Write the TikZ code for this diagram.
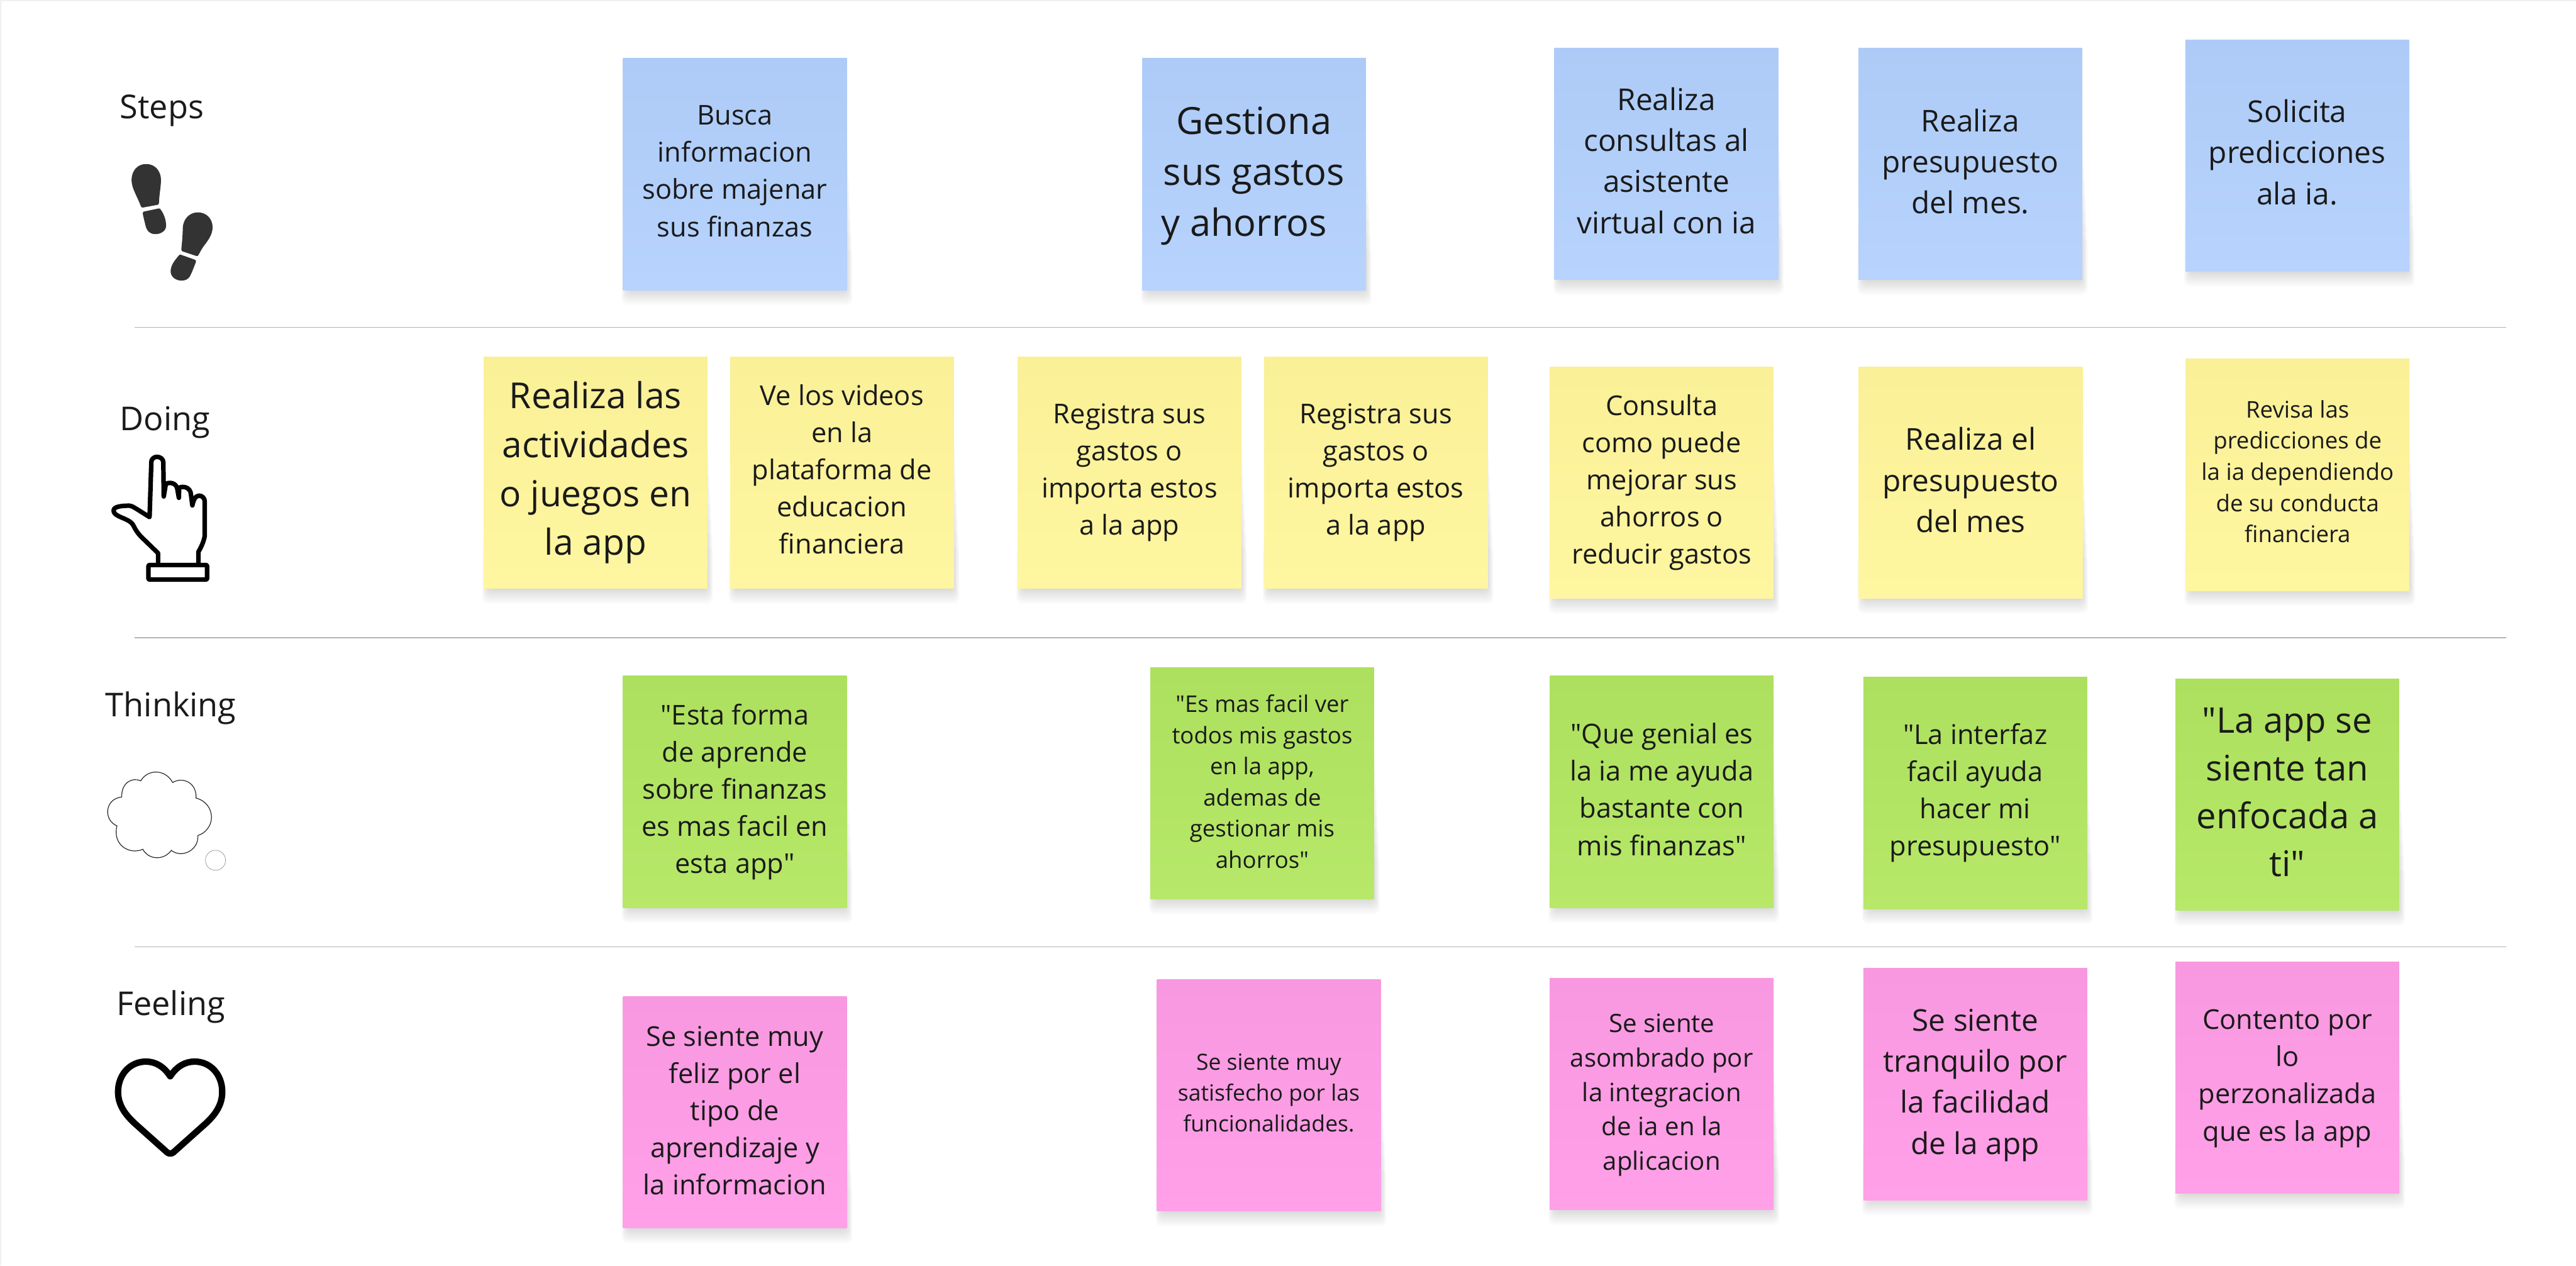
\documentclass[tikz,border=0pt]{standalone}
\usepackage{fontspec}
\setmainfont{Open Sans}[Ligatures=TeXOff]
\definecolor{ink}{HTML}{1A1A1A}
\definecolor{ruleline}{HTML}{B4B4B4}
\definecolor{framegray}{HTML}{F0F0F0}
\definecolor{bluetop}{HTML}{ADCBF6}\definecolor{bluebot}{HTML}{B7D3FE}
\definecolor{yellowtop}{HTML}{F9F097}\definecolor{yellowbot}{HTML}{FFF6A1}
\definecolor{greentop}{HTML}{ADE05E}\definecolor{greenbot}{HTML}{B7E869}
\definecolor{pinktop}{HTML}{F898E0}\definecolor{pinkbot}{HTML}{FFA0E8}
\tikzset{
  rowlabel/.style={text=ink,font=\fontsize{20}{24}\selectfont,inner sep=0pt},
  bluenote/.style={top color=bluetop,bottom color=bluebot},
  yellownote/.style={top color=yellowtop,bottom color=yellowbot},
  greennote/.style={top color=greentop,bottom color=greenbot},
  pinknote/.style={top color=pinktop,bottom color=pinkbot},
  noteshape/.style={rectangle,inner sep=0pt,draw=none,minimum width=136.2pt,minimum height=141pt,anchor=north west},
  notetext/.style={inner sep=0pt,text=ink,align=center},
  rowrule/.style={draw=ruleline,line width=0.45pt},
  iconline/.style={draw=black,line join=round,line cap=round},
}
% \sticky{name}{x1}{y1}{style}{size}{leading}{text}{text shift downward}
\newcommand{\sticky}[8]{%
  \foreach \shi in {1,...,9}{%
    \fill[black,opacity=0.016,rounded corners=3.5pt]
      ({#2+3-0.4*\shi},{#3+35+9*\shi}) rectangle ({#2+136.2+0.4*\shi},{#3+141+1.05*\shi});}
  \node[noteshape,#4] (#1) at (#2,#3) {};
  \node[notetext,font=\fontsize{#5}{#6}\selectfont,yshift={-(#8)*1pt}] (#1t) at (#1.center) {#7};}
\begin{document}
\begin{tikzpicture}[x=1pt,y=-1pt]
\useasboundingbox (0,0) rectangle (1568,770.3);
\fill[white] (0,0) rectangle (1568,770.3);
\fill[framegray] (0,0) rectangle (1568,0.6);
\fill[framegray] (0,0) rectangle (0.9,770.3);
\coordinate (r1a) at (82,199.2); \coordinate (r1b) at (1525.5,199.2);
\coordinate (r2a) at (82,388.2); \coordinate (r2b) at (1525.5,388.2);
\coordinate (r3a) at (82,576.4); \coordinate (r3b) at (1525.5,576.4);
\draw[rowrule] (r1a) -- (r1b);
\draw[rowrule] (r2a) -- (r2b);
\draw[rowrule] (r3a) -- (r3b);

\node[rowlabel] (lsteps) at (98.5,67.5) {Steps};
\node[rowlabel] (ldoing) at (100.5,257) {Doing};
\node[rowlabel] (lthink) at (104,431) {Thinking};
\node[rowlabel] (lfeel) at (104,613) {Feeling};

% Steps
\sticky{s1}{379}{35.3}{bluenote}{16.6}{22.6}{Busca\\informacion\\sobre majenar\\sus finanzas}{-1.8}
\sticky{s2}{695}{35.3}{bluenote}{22.8}{31}{Gestiona\\sus gastos\\y ahorros\hspace*{12pt}}{1}
\sticky{s3}{946}{29}{bluenote}{18.3}{25}{Realiza\\consultas al\\asistente\\virtual con ia}{-2}
\sticky{s4}{1131}{29}{bluenote}{18.3}{25}{Realiza\\presupuesto\\del mes.}{-1.5}
\sticky{s5}{1330}{24}{bluenote}{18.3}{25}{Solicita\\predicciones\\ala ia.}{-2}
% Doing
\sticky{d1}{294.2}{217}{yellownote}{21.8}{29.7}{Realiza las\\actividades\\o juegos en\\la app}{0}
\sticky{d2}{444.2}{217}{yellownote}{16.6}{22.6}{Ve los videos\\en la\\plataforma de\\educacion\\financiera}{-2}
\sticky{d3}{619.2}{217}{yellownote}{16.6}{22.6}{Registra sus\\gastos o\\importa estos\\a la app}{0}
\sticky{d4}{769.2}{217}{yellownote}{16.6}{22.6}{Registra sus\\gastos o\\importa estos\\a la app}{0}
\sticky{d5}{943.2}{223}{yellownote}{16.6}{22.6}{Consulta\\como puede\\mejorar sus\\ahorros o\\reducir gastos}{0}
\sticky{d6}{1131.2}{223}{yellownote}{18.3}{25}{Realiza el\\presupuesto\\del mes}{-1.5}
\sticky{d7}{1330.2}{218.3}{yellownote}{14}{19}{Revisa las\\predicciones de\\la ia dependiendo\\de su conducta\\financiera}{-2}
% Thinking
\sticky{t1}{379}{411.3}{greennote}{16.6}{22.6}{"Esta forma\\de aprende\\sobre finanzas\\es mas facil en\\esta app"}{0}
\sticky{t2}{700}{406}{greennote}{14}{19}{"Es mas facil ver\\todos mis gastos\\en la app,\\ademas de\\gestionar mis\\ahorros"}{-1}
\sticky{t3}{943.2}{411.3}{greennote}{16.6}{22.6}{"Que genial es\\la ia me ayuda\\bastante con\\mis finanzas"}{-1.5}
\sticky{t4}{1134}{412}{greennote}{16.6}{22.6}{"La interfaz\\facil ayuda\\hacer mi\\presupuesto"}{0}
\sticky{t5}{1324}{413}{greennote}{21.5}{29}{"La app se\\siente tan\\enfocada a\\ti"}{-1.5}
% Feeling
\sticky{f1}{379}{606.3}{pinknote}{16.6}{22.6}{Se siente muy\\feliz por el\\tipo de\\aprendizaje y\\la informacion}{-1}
\sticky{f2}{704}{596}{pinknote}{13.6}{18.6}{Se siente muy\\satisfecho por las\\funcionalidades.}{-1.5}
\sticky{f3}{943.2}{595.3}{pinknote}{15.4}{21}{Se siente\\asombrado por\\la integracion\\de ia en la\\aplicacion}{0.5}
\sticky{f4}{1134}{589.3}{pinknote}{18.3}{25}{Se siente\\tranquilo por\\la facilidad\\de la app}{0.5}
\sticky{f5}{1324}{585.3}{pinknote}{16.6}{22.6}{Contento por\\lo\\perzonalizada\\que es la app}{0.5}

% Footprints
\begin{scope}[x=0.08375pt,y=-0.0959pt,shift={(600,393)}]
\fill[black!80] (462,648) .. controls (395,648) and (356,695) .. (356,750) .. controls (356,800) and (395,850) .. (422,912) .. controls (425,922) and (430,926) .. (440,924) -- (545,907) .. controls (553,905) and (556,900) .. (556,890) .. controls (556,850) and (570,790) .. (570,750) .. controls (570,695) and (530,648) .. (462,648) -- cycle;
\fill[black!80] (445,950) -- (553,930) .. controls (562,929) and (565,933) .. (570,940) .. controls (590,965) and (607,1000) .. (607,1040) .. controls (607,1075) and (565,1093) .. (530,1093) .. controls (490,1093) and (468,1075) .. (458,1040) .. controls (450,1010) and (442,985) .. (438,965) .. controls (437,955) and (440,951) .. (445,950) -- cycle;
\fill[black!80] (838,955) .. controls (900,955) and (945,995) .. (945,1050) .. controls (945,1100) and (905,1140) .. (880,1170) .. controls (865,1188) and (855,1205) .. (845,1222) .. controls (840,1232) and (835,1234) .. (825,1231) -- (728,1203) .. controls (720,1200) and (717,1197) .. (718,1188) .. controls (722,1150) and (728,1100) .. (728,1060) .. controls (728,1000) and (775,955) .. (838,955) -- cycle;
\fill[black!80] (715,1224) -- (815,1255) .. controls (825,1258) and (827,1264) .. (823,1272) .. controls (810,1300) and (798,1330) .. (782,1358) .. controls (770,1380) and (745,1388) .. (718,1388) .. controls (680,1388) and (640,1365) .. (640,1330) .. controls (640,1290) and (670,1260) .. (700,1228) .. controls (705,1223) and (710,1222) .. (715,1224) -- cycle;
\end{scope}

% Hand
\begin{scope}[x=0.08375pt,y=-0.08375pt,shift={(600,2850)}]
\draw[iconline,line width=2.76pt] (549,1245) -- (549,1170) -- (430,1055) .. controls (400,1025) and (385,1000) .. (370,970) .. controls (355,935) and (300,920) .. (260,900) .. controls (235,888) and (225,875) .. (226,858) .. controls (228,830) and (290,825) .. (340,825) .. controls (360,826) and (375,838) .. (487,908) -- (500,505) .. controls (501,485) and (520,470) .. (540,470) .. controls (565,470) and (586,485) .. (587,510) -- (590,758) -- (605,668) .. controls (630,650) and (680,660) .. (688,700) -- (700,768) -- (702,695) .. controls (730,680) and (785,690) .. (788,745) -- (798,823) .. controls (805,790) and (815,755) .. (845,752) .. controls (870,752) and (888,770) .. (888,795) -- (888,1045) .. controls (880,1090) and (860,1130) .. (842,1160) -- (842,1245);
\draw[iconline,line width=2.76pt,rounded corners=0.5pt] (479,1256) rectangle (905,1362);
\end{scope}

% Cloud
\begin{scope}[x=0.08375pt,y=-0.08375pt,shift={(600,4950)}]
\draw[black!85,line width=0.45pt] (423,725) .. controls (470,640) and (600,635) .. (655,737)
 .. controls (720,695) and (830,730) .. (825,850)
 .. controls (900,870) and (937,930) .. (937,990) .. controls (937,1050) and (895,1105) .. (838,1122)
 .. controls (845,1230) and (720,1290) .. (645,1230)
 .. controls (590,1305) and (480,1300) .. (438,1222)
 .. controls (340,1265) and (215,1190) .. (250,1052)
 .. controls (150,1010) and (160,855) .. (285,842)
 .. controls (280,740) and (360,695) .. (423,725) -- cycle;
\draw[black!45,line width=0.25pt] (966,1302) circle[radius=73];
\end{scope}

% Heart
\begin{scope}[x=0.08375pt,y=-0.08375pt,shift={(600,7200)}]
\draw[iconline,line width=3.9pt] (637,622) .. controls (590,550) and (530,515) .. (460,515) .. controls (345,515) and (258,610) .. (258,735) .. controls (258,830) and (310,900) .. (380,965) -- (615,1175) .. controls (628,1186) and (646,1186) .. (660,1175) -- (895,965) .. controls (965,900) and (1015,830) .. (1015,735) .. controls (1015,610) and (930,515) .. (815,515) .. controls (745,515) and (685,550) .. (637,622) -- cycle;
\end{scope}
\end{tikzpicture}
\end{document}
